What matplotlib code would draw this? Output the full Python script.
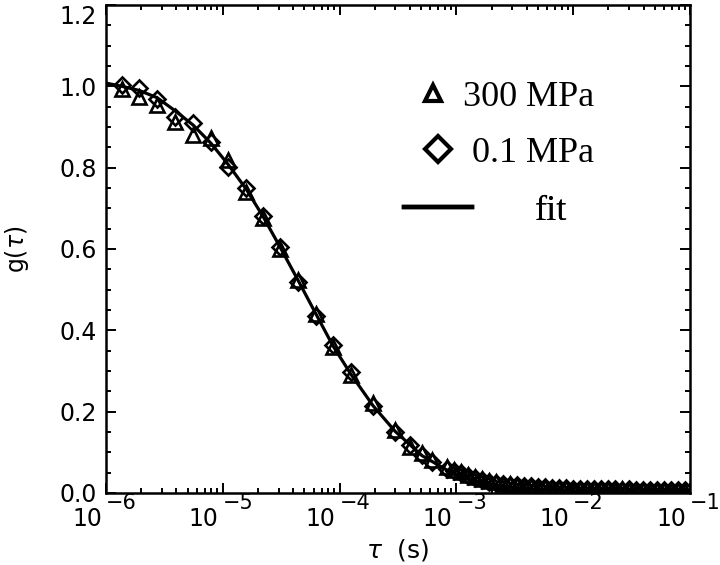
import matplotlib
matplotlib.use("Agg")
import matplotlib.pyplot as plt
from matplotlib.lines import Line2D
from matplotlib.transforms import offset_copy
from matplotlib.ticker import FixedLocator, LogLocator, NullFormatter

# ---------------- data ----------------
tau = [1.37e-6, 1.92e-6, 2.74e-6, 3.90e-6, 5.56e-6, 7.92e-6, 1.11e-5, 1.58e-5,
       2.21e-5, 3.09e-5, 4.41e-5, 6.28e-5, 8.77e-5, 1.25e-4, 1.93e-4, 2.98e-4,
       4.01e-4, 5.07e-4, 6.18e-4,
       8.32e-4, 9.55e-4, 1.10e-3, 1.26e-3, 1.45e-3, 1.66e-3, 1.91e-3, 2.19e-3,
       2.51e-3, 2.88e-3, 3.31e-3, 3.80e-3, 4.37e-3, 5.01e-3, 5.75e-3, 6.61e-3,
       7.59e-3, 8.71e-3, 1.00e-2, 1.15e-2, 1.32e-2, 1.51e-2, 1.74e-2, 2.00e-2,
       2.29e-2, 2.63e-2, 3.02e-2, 3.47e-2, 3.98e-2, 4.57e-2, 5.25e-2, 6.03e-2,
       6.92e-2, 7.94e-2, 9.12e-2]

g_01MPa = [1.003, 0.995, 0.970, 0.925, 0.910, 0.864, 0.802, 0.750, 0.680, 0.606,
           0.520, 0.435, 0.365, 0.298, 0.215, 0.150, 0.118, 0.093, 0.076,
           0.060, 0.054, 0.048, 0.043, 0.037, 0.032, 0.028, 0.025, 0.022, 0.020,
           0.019, 0.017, 0.016, 0.015, 0.014, 0.013, 0.012, 0.012, 0.011, 0.011,
           0.010, 0.010, 0.009, 0.010, 0.009, 0.008, 0.009, 0.008, 0.008, 0.007,
           0.008, 0.007, 0.008, 0.007, 0.007]

g_300MPa = [0.993, 0.973, 0.954, 0.913, 0.880, 0.872, 0.820, 0.741, 0.676, 0.600,
            0.525, 0.440, 0.360, 0.290, 0.222, 0.155, 0.112, 0.098, 0.080,
            0.064, 0.057, 0.051, 0.045, 0.040, 0.034, 0.030, 0.026, 0.023, 0.021,
            0.019, 0.018, 0.016, 0.015, 0.014, 0.013, 0.013, 0.012, 0.011, 0.010,
            0.011, 0.009, 0.010, 0.009, 0.008, 0.009, 0.008, 0.007, 0.008, 0.006,
            0.007, 0.007, 0.006, 0.007, 0.006]

tau_fit = [1.0e-6, 1.37e-6, 1.92e-6, 2.74e-6, 3.90e-6, 5.56e-6, 7.92e-6, 1.11e-5,
           1.58e-5, 2.21e-5, 3.09e-5, 4.41e-5, 6.28e-5, 8.77e-5, 1.25e-4, 1.93e-4,
           2.98e-4, 5.07e-4, 8.81e-4, 1.44e-3, 2.51e-3, 4.90e-3, 1.08e-2, 3.06e-2,
           1.0e-1]
g_fit = [1.008, 1.000, 0.990, 0.972, 0.940, 0.905, 0.860, 0.808, 0.748, 0.680,
         0.605, 0.523, 0.440, 0.362, 0.292, 0.215, 0.152, 0.092, 0.052, 0.030,
         0.016, 0.008, 0.004, 0.002, 0.001]

y_ticks = [0.0, 0.2, 0.4, 0.6, 0.8, 1.0, 1.2]
y_ticklabels = ["0.0", "0.2", "0.4", "0.6", "0.8", "1.0", "1.2"]
x_decades = [1e-6, 1e-5, 1e-4, 1e-3, 1e-2, 1e-1]
x_exponents = ["\u22126", "\u22125", "\u22124", "\u22123", "\u22122", "\u22121"]
legend_labels = ["300 MPa", "0.1 MPa", "fit"]

# ---------------- figure ----------------
W, H, DPI = 720, 565, 100
fig = plt.figure(figsize=(W / DPI, H / DPI), dpi=DPI)
L, R, T, B = 106, 690, 5, 493
ax = fig.add_axes([L / W, 1 - B / H, (R - L) / W, (B - T) / H])

ax.set_xscale("log")
ax.set_xlim(1e-6, 1e-1)
ax.set_ylim(0.0, 1.2)

ax.plot(tau, g_300MPa, linestyle="none", marker="^", ms=10.5, mfc="none",
        mec="black", mew=1.9, zorder=2)
ax.plot(tau, g_01MPa, linestyle="none", marker="D", ms=7.8, mfc="none",
        mec="black", mew=1.9, zorder=2)
ax.plot(tau_fit, g_fit, color="black", lw=2.3, zorder=3)

# spines & ticks
for s in ax.spines.values():
    s.set_linewidth(1.8)
ax.tick_params(which="both", direction="in", top=True, right=True, width=1.4)
ax.tick_params(which="major", length=7)
ax.tick_params(which="minor", length=3.8)

ax.yaxis.set_major_locator(FixedLocator(y_ticks))
ax.yaxis.set_minor_locator(FixedLocator([i * 0.05 for i in range(25)]))
ax.set_yticklabels(y_ticklabels, fontsize=17, family="DejaVu Sans")
ax.tick_params(axis="y", pad=6.5)
ylabs = ax.get_yticklabels()
ylabs[-1].set_va("top")

ax.xaxis.set_minor_locator(LogLocator(base=10, subs=range(2, 10), numticks=20))
ax.xaxis.set_minor_formatter(NullFormatter())
ax.set_xticks(x_decades)
ax.set_xticklabels([""] * len(x_decades))

xtrans = ax.get_xaxis_transform()
for xv, ex in zip(x_decades, x_exponents):
    t1 = offset_copy(xtrans, fig=fig, x=-4, y=-26, units="dots")
    ax.text(xv, 0, "10", transform=t1, ha="right", va="center", fontsize=17,
            family="DejaVu Sans", clip_on=False)
    t2 = offset_copy(xtrans, fig=fig, x=0, y=-10, units="dots")
    ax.text(xv, 0, ex, transform=t2, ha="left", va="center", fontsize=15,
            family="DejaVu Sans", clip_on=False)

ax.set_xlabel(r"$\tau$  (s)", fontsize=18)
ax.xaxis.set_label_coords(0.5, -(550 - B) / (B - T))
ax.xaxis.label.set_va("center")
ax.set_ylabel(r"g($\tau$)", fontsize=17)
ax.yaxis.set_label_coords(-(L - 17) / (R - L), 0.5)
ax.yaxis.label.set_va("center")

# legend (three single-entry legends to reproduce the layout)
fs = 26
em = fs / 72 * DPI
h_tri = Line2D([], [], linestyle="none", marker="^", ms=12, mfc="none",
               mec="black", mew=3.0)
h_dia = Line2D([], [], linestyle="none", marker="D", ms=13, mfc="none",
               mec="black", mew=3.0)
h_fit = Line2D([], [], color="black", lw=3.2)

specs = [
    (h_tri, legend_labels[0], 433, 97, 0.9, 463),
    (h_dia, legend_labels[1], 438, 153, 0.9, 472),
    (h_fit, legend_labels[2], 438, 211, 68 / em, 535),
]
for h, lab, cx, cy, hl, tx in specs:
    left = cx - hl * em / 2
    pad = (tx - (left + hl * em)) / em
    leg = ax.legend([h], [lab], loc="center left",
                    bbox_to_anchor=(left / W, 1 - cy / H),
                    bbox_transform=fig.transFigure, frameon=False,
                    borderpad=0, borderaxespad=0, handlelength=hl,
                    handletextpad=pad, prop={"family": "Liberation Serif",
                                             "size": fs})
    ax.add_artist(leg)

fig.savefig("out.png", dpi=DPI)
